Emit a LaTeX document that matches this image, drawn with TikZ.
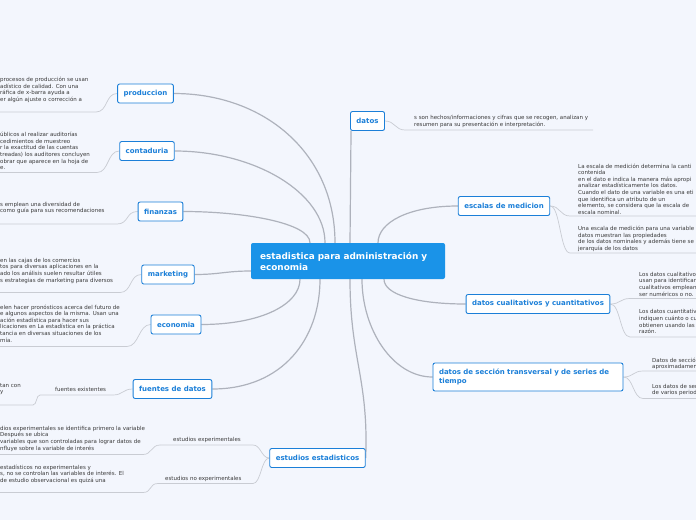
\documentclass[tikz,border=0pt]{standalone}
\usepackage{fontspec}
\setmainfont{DejaVu Sans}
\usetikzlibrary{positioning, backgrounds}

\definecolor{pagebg}{HTML}{F3F6FD}
\definecolor{nodeblue}{HTML}{1B7FD8}
\definecolor{hubblue}{HTML}{1A93E8}
\definecolor{linkgray}{HTML}{AEB2BC}
\definecolor{leafgray}{HTML}{C9CCD3}
\definecolor{notetext}{HTML}{3A3A3A}

\begin{document}
\begin{tikzpicture}[
        x=1pt, y=-1pt,
        hub/.style={fill=hubblue, rounded corners=2pt, text=white, font=\bfseries\fontsize{8.9}{11}\selectfont, align=left, text width=176pt, minimum width=194pt, minimum height=36pt, inner xsep=9pt},
        topic/.style={draw=nodeblue, line width=0.9pt, fill=white, rounded corners=2pt, text=nodeblue, font=\bfseries\fontsize{7}{8.5}\selectfont, inner xsep=6pt, inner ysep=2pt, minimum height=19pt},
        link/.style={draw=linkgray, line width=1.2pt},
        leaf/.style={draw=leafgray, line width=0.7pt},
        note/.style={font=\fontsize{5.5}{6.6}\selectfont, text=notetext, align=left, inner sep=0pt, anchor=north west},
        sub/.style={font=\fontsize{5.5}{6}\selectfont, text=notetext, inner sep=0pt, anchor=base west}
    ]
    \useasboundingbox (0,0) rectangle (696,520);
    \clip (0,0) rectangle (696,520);

    % central topic and main branches
    \node[hub] (hub) at (348,261) {estadistica para administración y\\economia};
    \node[topic] (produccion) at (145.5,93.5) {produccion};
    \node[topic] (contaduria) at (147,151) {contaduria};
    \node[topic] (finanzas) at (160.5,211.5) {finanzas};
    \node[topic] (marketing) at (168,274.5) {marketing};
    \node[topic] (economia) at (176,324.5) {economia};
    \node[topic] (fuentes) at (172.5,389) {fuentes de datos};
    \node[topic] (estudios) at (317.5,458) {estudios estadisticos};
    \node[topic] (datos) at (367.5,121) {datos};
    \node[topic] (escalas) at (504,206) {escalas de medicion};
    \node[topic] (cualitativos) at (538,304) {datos cualitativos y cuantitativos};
    \node[topic, align=left, text width=178pt, minimum height=28pt] (seccion) at (528,377) {datos de sección transversal y de series de\\tiempo};

    % sub labels
    \node[sub] (existentes) at (55,391) {fuentes existentes};
    \node[sub] (experimentales) at (173,441) {estudios experimentales};
    \node[sub] (noexperimentales) at (165,480) {estudios no experimentales};

    % notes
    \node[note] (prodnote) at (0,77) {procesos de producción se usan\\adístico de calidad. Con una\\ráfica de x-barra ayuda a\\er algún ajuste o corrección a};
    \node[note] (contnote) at (0,132) {úblicos al realizar auditorías\\cedimientos de muestreo\\r la exactitud de las cuentas\\treadas) los auditores concluyen\\obrar que aparece en la hoja de\\e.};
    \node[note] (finnote) at (0,202) {s emplean una diversidad de\\como guía para sus recomendaciones};
    \node[note] (marknote) at (0,258) {en las cajas de los comercios\\tos para diversas aplicaciones en la\\ado los análisis suelen resultar útiles\\s estrategias de marketing para diversos};
    \node[note] (econote) at (0,304.5) {elen hacer pronósticos acerca del futuro de\\e algunos aspectos de la misma. Usan una\\ación estadística para hacer sus\\licaciones en La estadística en la práctica\\tancia en diversas situaciones de los\\mía.};
    \node[note] (fuentenote) at (0,383) {tan con\\ y};
    \node[note] (expnote) at (0,426) {dios experimentales se identifica primero la variable\\ Después se ubica\\ variables que son controladas para lograr datos de\\nfluye sobre la variable de interés};
    \node[note] (noexpnote) at (0,464.5) {estadísticos no experimentales y\\s, no se controlan las variables de interés. El\\ de estudio observacional es quizá una};
    \node[note] (datosnote) at (414,115.5) {s son hechos/informaciones y cifras que se recogen, analizan y\\resumen para su presentación e interpretación.};
    \node[note] (escnote1) at (578,163.5) {La escala de medición determina la canti\\contenida\\en el dato e indica la manera más apropi\\analizar estadísticamente los datos.\\Cuando el dato de una variable es una eti\\que identifica un atributo de un\\elemento, se considera que la escala de\\escala nominal.};
    \node[note] (escnote2) at (578,226) {Una escala de medición para una variable\\datos muestran las propiedades\\de los datos nominales y además tiene se\\jerarquía de los datos};
    \node[note] (cualnote1) at (639,272) {Los datos cualitativo\\usan para identificar\\cualitativos emplean\\ser numéricos o no.};
    \node[note] (cualnote2) at (639,309.5) {Los datos cuantitativ\\indiquen cuánto o cu\\obtienen usando las\\razón.};
    \node[note] (secnote1) at (652,357.5) {Datos de secció\\aproximadamen};
    \node[note] (secnote2) at (652,384) {Los datos de ser\\de varios period};

    % underline ends
    \coordinate (prod-a) at (96,112);      \coordinate (prod-b) at (0,112);
    \coordinate (cont-a) at (97,172.5);    \coordinate (cont-b) at (0,172.5);
    \coordinate (fin-a) at (117,224);      \coordinate (fin-b) at (0,224);
    \coordinate (mark-a) at (120,292.5);   \coordinate (mark-b) at (0,292.5);
    \coordinate (eco-a) at (127,346.5);    \coordinate (eco-b) at (0,346.5);
    \coordinate (fue-a) at (113,395);      \coordinate (fue-b) at (40,395);
    \coordinate (fuen-a) at (33,405);      \coordinate (fuen-b) at (0,405);
    \coordinate (exp-a) at (253,445);      \coordinate (exp-b) at (160,445);
    \coordinate (expn-a) at (143,454.5);   \coordinate (expn-b) at (0,454.5);
    \coordinate (nexp-a) at (253,483.5);   \coordinate (nexp-b) at (158,483.5);
    \coordinate (nexpn-a) at (143,492.5);  \coordinate (nexpn-b) at (0,492.5);
    \coordinate (dat-a) at (405,130);      \coordinate (dat-b) at (593,130);
    \coordinate (esc1-a) at (570,216);     \coordinate (esc1-b) at (700,216);
    \coordinate (esc2-a) at (570,253);     \coordinate (esc2-b) at (700,253);
    \coordinate (cual1-a) at (630,298.5);  \coordinate (cual1-b) at (700,298.5);
    \coordinate (cual2-a) at (630,337);    \coordinate (cual2-b) at (700,337);
    \coordinate (sec1-a) at (643,371);     \coordinate (sec1-b) at (700,371);
    \coordinate (sec2-a) at (643,398.5);   \coordinate (sec2-b) at (700,398.5);

    \begin{scope}[on background layer]
        \fill[pagebg] (0,0) rectangle (696,520);
        % main branches
        \draw[link] (produccion.east) .. controls +(90,0) and +(0,-90) .. ([xshift=-13pt]hub.north);
        \draw[link] (contaduria.east) .. controls +(80,0) and +(0,-50) .. ([xshift=-23pt]hub.north);
        \draw[link] (finanzas.east) .. controls +(60,0) and +(0,-20) .. ([xshift=-38pt]hub.north);
        \draw[link] (marketing.east) .. controls +(25,0) and +(-25,0) .. ([yshift=-10pt]hub.west);
        \draw[link] (economia.east) .. controls +(60,0) and +(0,25) .. ([xshift=-48pt]hub.south);
        \draw[link] (fuentes.east) .. controls +(70,0) and +(0,60) .. ([xshift=-28pt]hub.south);
        \draw[link] (estudios.east) .. controls +(3,-80) and +(0,80) .. ([xshift=2pt]hub.south);
        \draw[link] ([xshift=2pt]hub.north) -- ([xshift=1pt]datos.south west);
        \draw[link] (escalas.west) .. controls +(-50,0) and +(0,-20) .. ([xshift=30pt]hub.north);
        \draw[link] (cualitativos.west) .. controls +(-50,0) and +(0,15) .. ([xshift=36pt]hub.south);
        \draw[link] (seccion.west) .. controls +(-40,0) and +(0,50) .. ([xshift=14pt]hub.south);
        % leaves
        \draw[leaf] (produccion.west) .. controls +(-12,0) and +(12,0) .. (prod-a) -- (prod-b);
        \draw[leaf] (contaduria.west) .. controls +(-12,0) and +(12,0) .. (cont-a) -- (cont-b);
        \draw[leaf] (finanzas.west) .. controls +(-12,0) and +(12,0) .. (fin-a) -- (fin-b);
        \draw[leaf] (marketing.west) .. controls +(-12,0) and +(12,0) .. (mark-a) -- (mark-b);
        \draw[leaf] (economia.west) .. controls +(-12,0) and +(12,0) .. (eco-a) -- (eco-b);
        \draw[leaf] (fuentes.west) .. controls +(-10,0) and +(10,0) .. (fue-a) -- (fue-b);
        \draw[leaf] (fue-b) .. controls +(-4,0) and +(4,0) .. (fuen-a) -- (fuen-b);
        \draw[leaf] (estudios.west) .. controls +(-8,0) and +(8,0) .. (exp-a) -- (exp-b);
        \draw[leaf] (exp-b) .. controls +(-9,0) and +(9,0) .. (expn-a) -- (expn-b);
        \draw[leaf] (estudios.west) .. controls +(-8,0) and +(8,0) .. (nexp-a) -- (nexp-b);
        \draw[leaf] (nexp-b) .. controls +(-9,0) and +(9,0) .. (nexpn-a) -- (nexpn-b);
        \draw[leaf] (datos.east) .. controls +(10,0) and +(-10,0) .. (dat-a) -- (dat-b);
        \draw[leaf] (escalas.east) .. controls +(10,0) and +(-10,0) .. (esc1-a) -- (esc1-b);
        \draw[leaf] (escalas.east) .. controls +(10,0) and +(-10,0) .. (esc2-a) -- (esc2-b);
        \draw[leaf] (cualitativos.east) .. controls +(10,0) and +(-10,0) .. (cual1-a) -- (cual1-b);
        \draw[leaf] (cualitativos.east) .. controls +(10,0) and +(-10,0) .. (cual2-a) -- (cual2-b);
        \draw[leaf] (seccion.east) .. controls +(10,0) and +(-10,0) .. (sec1-a) -- (sec1-b);
        \draw[leaf] (seccion.east) .. controls +(10,0) and +(-10,0) .. (sec2-a) -- (sec2-b);
    \end{scope}
\end{tikzpicture}
\end{document}
